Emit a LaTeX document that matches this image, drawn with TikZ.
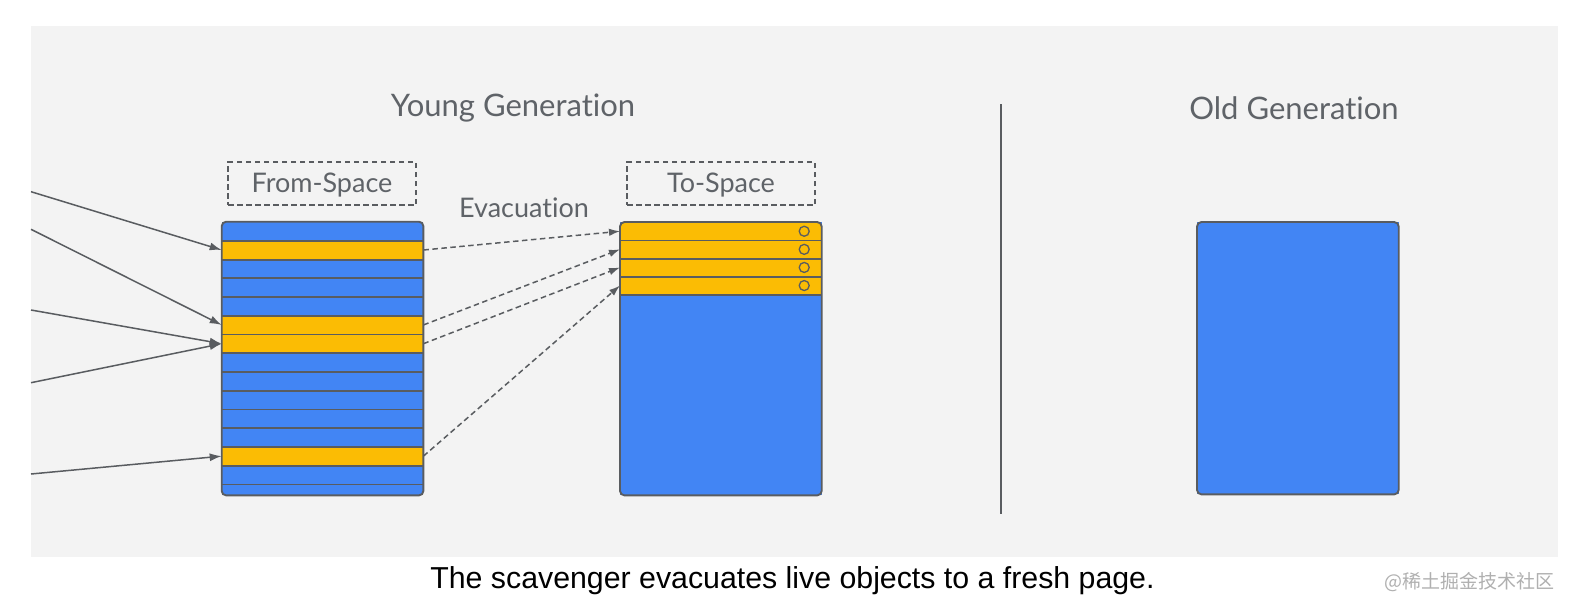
\documentclass[tikz,border=0pt]{standalone}
\usepackage{fontspec}
\setmainfont{Lato}[RawFeature={-liga;-dlig}]
\newfontfamily\capfont{Liberation Sans}
\newfontfamily\cjk{Noto Sans CJK SC}
\usetikzlibrary{arrows.meta,calc}
\definecolor{bg}{HTML}{F3F3F3}
\definecolor{gblue}{HTML}{4285F4}
\definecolor{gyel}{HTML}{FBBC04}
\definecolor{edge}{HTML}{595C60}
\definecolor{txt}{HTML}{5F6368}
\definecolor{wm}{HTML}{B0B0B0}
\begin{document}
\begin{tikzpicture}[x=1pt,y=-1pt,
  space/.style={fill=gblue, inner sep=0pt, minimum width=201.3pt, anchor=north west},
  frow/.style={inner sep=0pt, minimum width=201.3pt, minimum height=18.74pt, anchor=north west},
  trow/.style={inner sep=0pt, minimum width=201.3pt, minimum height=18.1pt, anchor=north west, fill=gyel},
  sep/.style={draw=edge, line width=1.9pt},
  bord/.style={draw=edge, line width=1.9pt, rounded corners=4.5pt},
  dbox/.style={draw=edge, line width=1.4pt, dash pattern=on 5.5pt off 3.5pt, inner sep=0pt, minimum height=43pt},
  ttl/.style={text=txt, font=\fontsize{31}{37}\selectfont},
  lbl/.style={text=txt, font=\fontsize{27}{32}\selectfont},
  ptr/.style={draw=edge, line width=1.5pt, -{Latex[length=12pt,width=8pt]}},
  dptr/.style={draw=edge, line width=1.5pt, dash pattern=on 5.5pt off 3.5pt, -{Latex[length=11pt,width=7.5pt]}},
  ring/.style={circle, draw=edge, line width=1.3pt, inner sep=0pt, minimum size=10pt}
]
\useasboundingbox (0,0) rectangle (1574,602);
\fill[white] (0,0) rectangle (1574,602);
\fill[bg] (31,26) rectangle (1558,557);

% titles
\node[ttl] (young) at (513,108.5) {Young Generation};
\node[ttl] (old) at (1294,108.5) {Old Generation};
\coordinate (d1) at (1001,104);
\coordinate (d2) at (1001,514);
\draw[edge, line width=2pt] (d1) -- (d2);

% labels
\node[dbox, minimum width=188pt] (fromlbl) at (322,183.5) {};
\node[lbl] at ($(fromlbl.center)+(0,2)$) {From-Space};
\node[dbox, minimum width=188pt] (tolbl) at (721,183.5) {};
\node[lbl] at ($(tolbl.center)+(0,2)$) {To-Space};
\node[lbl] (evac) at (524,208) {Evacuation};

% from-space
\node[space, minimum height=273.3pt] (from) at (221.7,221.7) {};
\begin{scope}
\clip[rounded corners=4.5pt] (from.north west) rectangle (from.south east);
\foreach \k/\c in {1/gblue,2/gyel,3/gblue,4/gblue,5/gblue,6/gyel,7/gyel,8/gblue,9/gblue,10/gblue,11/gblue,12/gblue,13/gyel,14/gblue}
  \node[frow, fill=\c] (f\k) at (221.7,{221.7+(\k-1)*18.74}) {};
\foreach \k in {1,...,14}
  \draw[sep] (f\k.south west) -- (f\k.south east);
\end{scope}
\draw[bord] (from.north west) rectangle (from.south east);

% to-space
\node[space, minimum height=273pt] (to) at (620,222) {};
\begin{scope}
\clip[rounded corners=4.5pt] (to.north west) rectangle (to.south east);
\foreach \k in {1,...,4}
  \node[trow] (t\k) at (620,{222+(\k-1)*18.1}) {};
\foreach \k in {1,...,4}
  \draw[sep] (t\k.south west) -- (t\k.south east);
\end{scope}
\draw[bord] (to.north west) rectangle (to.south east);
\foreach \k in {1,...,4}
  \node[ring] (c\k) at ($(t\k.east)+(-17.5,0)$) {};

% old generation
\node[space, minimum height=272pt] (oldsp) at (1197,222) {};
\draw[bord] (oldsp.north west) rectangle (oldsp.south east);

% incoming pointers
\coordinate (s1) at (31,191.7);
\coordinate (s2) at (31,229.3);
\coordinate (s3) at (31,310);
\coordinate (s4) at (31,382.7);
\coordinate (s5) at (31,474);
\draw[ptr] (s1) -- (f2.west);
\draw[ptr] (s2) -- (f6.west);
\draw[ptr] (s3) -- (f7.west);
\draw[ptr] (s4) -- (f7.west);
\draw[ptr] (s5) -- (f13.west);

% evacuation
\draw[dptr] (f2.east) -- (t1.west);
\draw[dptr] (f6.east) -- (t2.west);
\draw[dptr] (f7.east) -- (t3.west);
\draw[dptr] (f13.east) -- (t4.west);

% caption
\node[font=\capfont\fontsize{30.3}{36}\selectfont, text=black] (cap) at (792.5,581) {The scavenger evacuates live objects to a fresh page.};
\node[font=\cjk\fontsize{19}{23}\selectfont, text=wm] (wmk) at (1469,582) {@稀土掘金技术社区};
\end{tikzpicture}
\end{document}
